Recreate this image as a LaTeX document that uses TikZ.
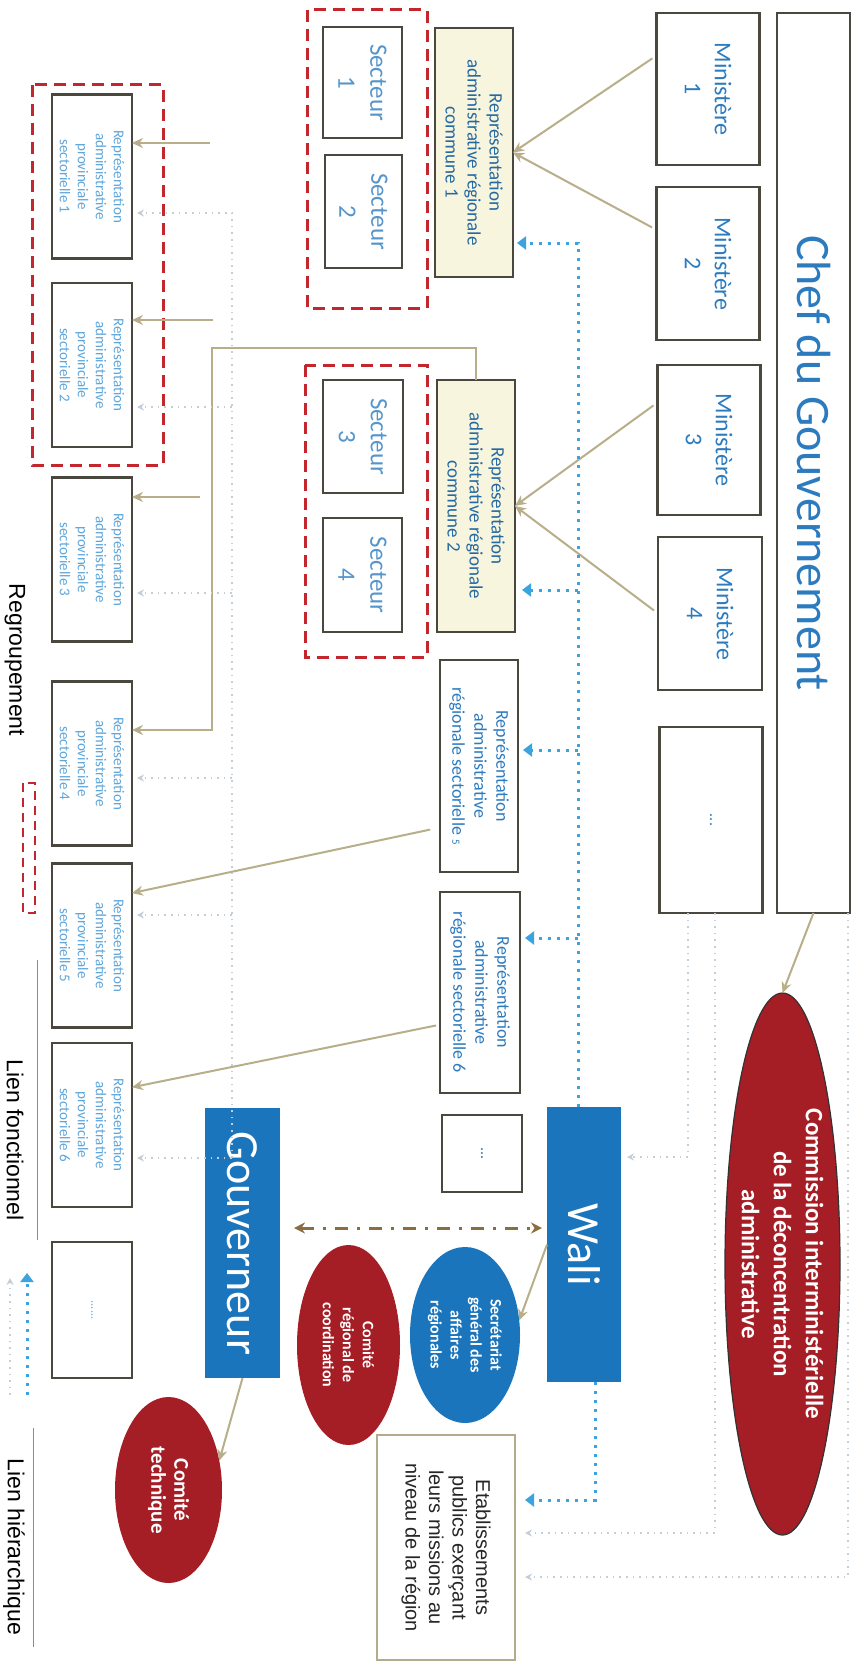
\documentclass[tikz,border=0pt]{standalone}
\usepackage{fontspec}
\setmainfont{Carlito}
\newfontfamily\arialf{Liberation Sans}
\usetikzlibrary{shapes.geometric,arrows.meta,calc}
\definecolor{boxline}{HTML}{4A473E}
\definecolor{txtblue}{HTML}{2C7BBF}
\definecolor{lightblue}{HTML}{5FA6DA}
\definecolor{tanc}{HTML}{B8AF8A}
\definecolor{hierblue}{HTML}{3BA3DD}
\definecolor{grpred}{HTML}{C4262E}
\definecolor{darkred}{HTML}{A51D25}
\definecolor{midblue}{HTML}{1B75BC}
\definecolor{pale}{HTML}{F7F5DE}
\definecolor{faintc}{HTML}{C4CED6}
\definecolor{ddbrown}{HTML}{8C6D3F}
\definecolor{etabline}{HTML}{B3AC8C}
\tikzset{
  sz/.style 2 args={minimum width=#2 pt, minimum height=#1 pt},
  box/.style={draw=boxline, line width=2.6pt, fill=white, rotate=-90, text=txtblue},
  rot/.style={rotate=-90},
  tanarrow/.style={draw=tanc, line width=2pt, -{Stealth[length=11pt,width=10pt]}},
  hier/.style={draw=hierblue, line width=3pt, dash pattern=on 3pt off 6pt, -{Triangle[length=9pt,width=13pt]}},
  faint/.style={draw=faintc, line width=1.6pt, dash pattern=on 1.6pt off 5pt, -{Stealth[length=7pt,width=7pt]}},
  grp/.style={draw=grpred, line width=3pt, dash pattern=on 12pt off 7pt},
  ddarrow/.style={draw=ddbrown, line width=3pt, dash pattern=on 13pt off 9pt on 3pt off 9pt, {Stealth[length=11pt,width=11pt]}-{Stealth[length=11pt,width=11pt]}},
  legend/.style={rotate=-90, font=\arialf\fontsize{23}{26}\selectfont, text=black}
}
\begin{document}
\begin{tikzpicture}[x=1pt,y=-1pt, every node/.style={inner sep=0pt, outer sep=0pt, align=center}]
\useasboundingbox (0,0) rectangle (859,1664);
\fill[white] (0,0) rectangle (859,1664);

% top level
\node[box, sz={73}{900}, font=\fontsize{48}{56}\selectfont] (chef) at (813.5,463) {Chef du Gouvernement};
\node[box, sz={103}{152}, font=\fontsize{24}{30}\selectfont] (m1) at (708,89) {Ministère\\1};
\node[box, sz={103}{153}, font=\fontsize{24}{30}\selectfont] (m2) at (708,263.5) {Ministère\\2};
\node[box, sz={103}{150}, font=\fontsize{24}{30}\selectfont] (m3) at (709,440) {Ministère\\3};
\node[box, sz={104}{153}, font=\fontsize{24}{30}\selectfont] (m4) at (710,613.5) {Ministère\\4};
\node[box, sz={103}{186}, font=\fontsize{16}{20}\selectfont] (mdots) at (711,820) {...};

% commission
\node[ellipse, draw=black!80, line width=1.2pt, fill=darkred, rot, sz={115}{542}] (comm) at (782.5,1264) {};
\node[rot, text=white, font=\bfseries\fontsize{25}{32}\selectfont] at (comm.center) {Commission interministérielle\\de la déconcentration\\administrative};

% regional communes and sectors
\node[box, fill=pale, sz={78}{249}, text=txtblue!85!black, font=\fontsize{19}{22}\selectfont] (rc1) at (474,152.5) {Représentation\\administrative régionale\\commune 1};
\node[box, sz={79}{111}, text=txtblue!80!white, font=\fontsize{25}{32}\selectfont] (s1) at (362.5,82.5) {Secteur\\1};
\node[box, sz={77}{113}, text=txtblue!80!white, font=\fontsize{25}{32}\selectfont] (s2) at (363.5,211.5) {Secteur\\2};
\draw[grp] (307,10) rectangle (427,308);

\node[box, fill=pale, sz={78}{252}, text=txtblue!85!black, font=\fontsize{19}{22}\selectfont] (rc2) at (476,506) {Représentation\\administrative régionale\\commune 2};
\node[box, sz={80}{113}, text=txtblue!80!white, font=\fontsize{25}{32}\selectfont] (s3) at (363,436.5) {Secteur\\3};
\node[box, sz={79}{114}, text=txtblue!80!white, font=\fontsize{25}{32}\selectfont] (s4) at (362.5,575) {Secteur\\4};
\draw[grp] (305,365) rectangle (427,657);

\node[box, sz={78}{212}, font=\fontsize{18}{22}\selectfont] (rs5) at (479,766) {Représentation\\administrative\\régionale sectorielle {\fontsize{11}{12}\selectfont 5}};
\node[box, sz={80}{201}, font=\fontsize{18}{22}\selectfont] (rs6) at (480,992.5) {Représentation\\administrative\\régionale sectorielle 6};
\node[box, sz={80}{77}, font=\fontsize{16}{20}\selectfont] (rdots) at (482,1153.5) {...};

% wali, gouverneur
\node[rot, fill=midblue, sz={74}{275}, text=white, font=\fontsize{46}{52}\selectfont] (wali) at (584,1244.5) {Wali};
\node[rot, fill=midblue, sz={75}{270}, text=white, font=\fontsize{46}{52}\selectfont] (gouv) at (242.5,1243) {Gouverneur};
\node[ellipse, fill=midblue, rot, sz={110}{176}] (sec) at (465,1335) {};
\node[rot, text=white, font=\bfseries\fontsize{16}{20}\selectfont] at (sec.center) {Secrétariat\\général des\\affaires\\régionales};
\node[ellipse, fill=darkred, rot, sz={103}{200}] (crc) at (348.5,1345) {};
\node[rot, text=white, font=\bfseries\fontsize{16}{20}\selectfont] at (crc.center) {Comité\\régional de\\coordination};
\node[ellipse, fill=darkred, rot, sz={107}{186}] (ct) at (168.5,1490) {};
\node[rot, text=white, font=\bfseries\fontsize{21}{23}\selectfont] at (ct.center) {Comité\\technique};

\node[rot, draw=etabline, line width=2pt, fill=white, sz={138}{225}, text=black!85, font=\arialf\fontsize{20}{23.5}\selectfont] (etab) at (446,1547.5) {Etablissements\\publics exerçant\\leurs missions au\\niveau de la région};

% provincial
\foreach \n/\cy/\k in {p1/176.5/1, p2/365/2, p3/559.5/3, p4/763.5/4, p5/945.5/5, p6/1125/6}{
  \node[box, sz={80}{164}, text=lightblue, font=\fontsize{15}{18}\selectfont] (\n) at (92,\cy) {Représentation\\administrative\\provinciale\\sectorielle \k};
}
\node[box, sz={80}{136}, text=lightblue, font=\fontsize{12}{14}\selectfont] (pdots) at (92,1310) {......};
\draw[grp] (32,85) rectangle (163,465);

% functional (tan) links
\draw[tanarrow] (chef.east) -- (comm.west);
\draw[tanarrow, shorten <=5pt] ($(m1.south west)!0.28!(m1.south east)$) -- (rc1.north);
\draw[tanarrow, shorten <=5pt] ($(m2.south west)!0.28!(m2.south east)$) -- (rc1.north);
\draw[tanarrow, shorten <=5pt] ($(m3.south west)!0.25!(m3.south east)$) -- (rc2.north);
\draw[tanarrow, shorten <=5pt] (m4.south) -- (rc2.north);
\coordinate (a1) at (210,143);
\coordinate (a2) at (213,320);
\coordinate (a3) at (200,497);
\draw[tanarrow] (a1) -- (a1 -| p1.north);
\draw[tanarrow] (a2) -- (a2 -| p2.north);
\draw[tanarrow] (a3) -- (a3 -| p3.north);
\coordinate (k1) at (212,348);
\coordinate (k2) at (212,730);
\draw[tanarrow] (rc2.west) |- (k1) -- (k2) -- (k2 -| p4.north);
\draw[tanarrow, shorten <=10pt] ($(rs5.south west)!0.79!(rs5.south east)$) -- ($(p5.north west)!0.18!(p5.north east)$);
\draw[tanarrow, shorten <=4pt] ($(rs6.south west)!0.66!(rs6.south east)$) -- ($(p6.north west)!0.27!(p6.north east)$);
\draw[tanarrow] (wali.south) -- (sec.105);
\draw[tanarrow] (gouv.east) -- (ct.120);

% hierarchical (blue dotted) links
\coordinate (t1) at (578,243);
\coordinate (t2) at (578,590);
\coordinate (t3) at (578,750);
\coordinate (t4) at (578,938);
\coordinate (t5) at (595,1500);
\draw[hier, shorten >=4pt] (t1 |- wali.west) -- (t1) -- (t1 -| rc1.north);
\draw[hier, shorten >=7pt] (t2) -- (t2 -| rc2.north);
\draw[hier, shorten >=5pt] (t3) -- (t3 -| rs5.north);
\draw[hier, shorten >=5pt] (t4) -- (t4 -| rs6.north);
\draw[hier, shorten >=10pt] (t5 |- wali.east) -- (t5) -- (t5 -| etab.north);

% Wali <-> Gouverneur
\coordinate (d1) at (400,1228);
\draw[ddarrow, shorten <=14pt, shorten >=5pt] (d1 -| gouv.north) -- (d1 -| wali.south);

% faint dotted links
\coordinate (f1) at (848,1577);
\coordinate (f2) at (715,1533);
\coordinate (f3) at (688,1157);
\draw[faint, shorten >=10pt] (f1 |- chef.east) -- (f1) -- (f1 -| etab.north);
\draw[faint, shorten >=10pt] (f2 |- mdots.east) -- (f2) -- (f2 -| etab.north);
\draw[faint, shorten >=6pt] (f3 |- mdots.east) -- (f3) -- (f3 -| wali.north);
\coordinate (v1) at (232,213);
\coordinate (v2) at (232,407);
\coordinate (v3) at (232,593);
\coordinate (v4) at (232,778);
\coordinate (v5) at (232,915);
\coordinate (v6) at (232,1158);
\draw[faint, shorten >=5pt] (v6) -- (v1) -- (v1 -| p1.north);
\draw[faint, shorten >=5pt] (v2) -- (v2 -| p2.north);
\draw[faint, shorten >=5pt] (v3) -- (v3 -| p3.north);
\draw[faint, shorten >=5pt] (v4) -- (v4 -| p4.north);
\draw[faint, shorten >=5pt] (v5) -- (v5 -| p5.north);
\draw[faint, shorten >=5pt] (v6) -- (v6 -| p6.north);

% legend
\node[legend] (lr) at (15,660) {Regroupement};
\draw[grp, line width=2.4pt, dash pattern=on 9pt off 6pt] (23,783) rectangle (35,913);
\node[legend] (lf) at (15,1140) {Lien fonctionnel};
\node[legend] (lh) at (14,1547) {Lien hiérarchique};
\draw[black!45, line width=0.6pt] (37,960) -- (37,1240);
\draw[black!45, line width=0.6pt] (33,1428) -- (33,1647);
\coordinate (lg1) at (27,1395);
\coordinate (lg2) at (27,1273);
\draw[hier] (lg1) -- (lg2);
\coordinate (lg3) at (10,1395);
\coordinate (lg4) at (10,1278);
\draw[faint] (lg3) -- (lg4);
\end{tikzpicture}
\end{document}
